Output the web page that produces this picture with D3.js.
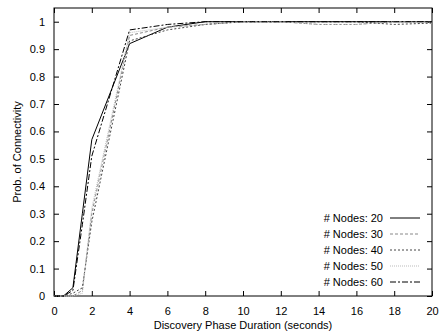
<!DOCTYPE html>
<html>
<head>
<meta charset="utf-8">
<script src="https://cdn.jsdelivr.net/npm/d3@7"></script>
<style>
  body { margin: 0; background: #fff; }
  text { font-family: "Liberation Sans", Arial, sans-serif; font-size: 11px; fill: #000; }
</style>
</head>
<body>
<script>
const WIDTH = 442;
const HEIGHT = 335;
const margin = { top: 8, right: 10, bottom: 39, left: 54 };

// discovery phase duration (seconds)
const durations = [0, 0.5, 1, 1.5, 2, 4, 6, 8, 10, 12, 14, 16, 18, 20];
const seriesNames = ["20", "30", "40", "50", "60"];
const nodes20 = [0, 0, 0.03, 0.3, 0.57, 0.92, 0.98, 1, 1, 1, 1, 1, 1, 1];
const nodes30 = [0, 0, 0, 0.02, 0.3, 0.95, 0.98, 0.99, 1, 1, 0.99, 0.99, 1, 1];
const nodes40 = [0, 0, 0.01, 0.03, 0.27, 0.93, 0.97, 0.99, 1, 1, 1, 1, 0.99, 0.995];
const nodes50 = [0, 0, 0, 0.01, 0.32, 0.96, 0.98, 0.99, 1, 1, 0.99, 0.99, 1, 0.995];
const nodes60 = [0, 0, 0.02, 0.26, 0.51, 0.97, 0.99, 1, 1, 1, 1, 1, 1, 1];
const xTicks = [0, 2, 4, 6, 8, 10, 12, 14, 16, 18, 20];
const yTicks = [0, 0.1, 0.2, 0.3, 0.4, 0.5, 0.6, 0.7, 0.8, 0.9, 1];

const styles = [
  { stroke: "#000", dash: null },
  { stroke: "#888", dash: "3,2" },
  { stroke: "#444", dash: "2,2" },
  { stroke: "#bbb", dash: "1,1" },
  { stroke: "#000", dash: "6,2,2,2" },
];

const seriesData = [nodes20, nodes30, nodes40, nodes50, nodes60].map((vals, i) => ({
  name: seriesNames[i],
  style: styles[i],
  points: vals.map((v, j) => ({ x: durations[j], y: v })),
}));

const svg = d3.select("body").append("svg")
  .attr("width", WIDTH)
  .attr("height", HEIGHT);

const x = d3.scaleLinear().domain([0, 20]).range([margin.left, WIDTH - margin.right]);
const y = d3.scaleLinear().domain([0, 1.05]).range([HEIGHT - margin.bottom, margin.top]);

const TICK = 5;

// frame
svg.append("rect")
  .attr("x", x(0)).attr("y", y(1.05))
  .attr("width", x(20) - x(0)).attr("height", y(0) - y(1.05))
  .attr("fill", "none").attr("stroke", "#000").attr("stroke-width", 1);

// axes with inward ticks
const bottomAxis = svg.append("g")
  .attr("transform", `translate(0,${y(0)})`)
  .call(d3.axisBottom(x).tickValues(xTicks).tickSize(-TICK).tickPadding(TICK + 6).tickFormat(d3.format("d")));
const topAxis = svg.append("g")
  .attr("transform", `translate(0,${y(1.05)})`)
  .call(d3.axisTop(x).tickValues(xTicks).tickSize(-TICK).tickFormat(""));
const leftAxis = svg.append("g")
  .attr("transform", `translate(${x(0)},0)`)
  .call(d3.axisLeft(y).tickValues(yTicks).tickSize(-TICK).tickPadding(TICK + 4)
    .tickFormat((d) => (d === 0 || d === 1 ? d3.format("d")(d) : d3.format(".1f")(d))));
const rightAxis = svg.append("g")
  .attr("transform", `translate(${x(20)},0)`)
  .call(d3.axisRight(y).tickValues(yTicks).tickSize(-TICK).tickFormat(""));

[bottomAxis, topAxis, leftAxis, rightAxis].forEach((a) => {
  a.select(".domain").remove();
  a.selectAll("line").attr("stroke", "#000");
  a.selectAll("text").attr("font-size", 11).attr("font-family", "Liberation Sans, Arial, sans-serif").attr("fill", "#000");
});

// curves
const line = d3.line().x((d) => x(d.x)).y((d) => y(d.y));
svg.append("g").selectAll("path")
  .data(seriesData)
  .join("path")
  .attr("d", (d) => line(d.points))
  .attr("fill", "none")
  .attr("stroke", (d) => d.style.stroke)
  .attr("stroke-width", 1)
  .attr("stroke-dasharray", (d) => d.style.dash);

// legend
const legend = svg.append("g");
seriesData.forEach((s, i) => {
  const ly = 218 + i * 16;
  legend.append("text")
    .attr("x", 383).attr("y", ly)
    .attr("dy", "0.35em")
    .attr("text-anchor", "end")
    .text(`# Nodes: ${s.name}`);
  legend.append("line")
    .attr("x1", 390).attr("x2", 420)
    .attr("y1", ly).attr("y2", ly)
    .attr("stroke", s.style.stroke)
    .attr("stroke-width", 1)
    .attr("stroke-dasharray", s.style.dash);
});

// axis titles
svg.append("text")
  .attr("x", (x(0) + x(20)) / 2).attr("y", 329)
  .attr("text-anchor", "middle")
  .text("Discovery Phase Duration (seconds)");
svg.append("text")
  .attr("transform", `translate(21,${(y(0) + y(1.05)) / 2}) rotate(-90)`)
  .attr("text-anchor", "middle")
  .text("Prob. of Connectivity");
</script>
</body>
</html>
